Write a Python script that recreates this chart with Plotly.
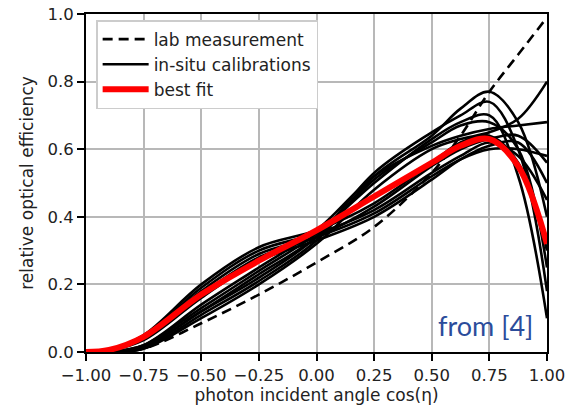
import plotly.graph_objects as go

x_grid = [-1.0, -0.9, -0.75, -0.5, -0.25, 0.0, 0.25, 0.5, 0.625, 0.75, 0.875, 1.0]

lab_measurement = [0.0, 0.0, 0.01, 0.085, 0.17, 0.265, 0.37, 0.53, 0.64, 0.77, 0.88, 0.99]

best_fit = [0.0, 0.006, 0.045, 0.17, 0.27, 0.36, 0.46, 0.56, 0.61, 0.63, 0.55, 0.32]

insitu_curves = [
    [0.0, 0.005, 0.04, 0.18, 0.29, 0.34, 0.41, 0.52, 0.57, 0.60, 0.60, 0.58],
    [0.0, 0.005, 0.045, 0.19, 0.30, 0.35, 0.42, 0.53, 0.58, 0.62, 0.58, 0.45],
    [0.0, 0.005, 0.04, 0.17, 0.28, 0.34, 0.43, 0.55, 0.60, 0.63, 0.64, 0.56],
    [0.0, 0.005, 0.05, 0.20, 0.31, 0.36, 0.44, 0.56, 0.62, 0.64, 0.56, 0.30],
    [0.0, 0.004, 0.035, 0.16, 0.27, 0.33, 0.40, 0.51, 0.57, 0.61, 0.62, 0.50],
    [0.0, 0.0, 0.01, 0.11, 0.21, 0.33, 0.52, 0.64, 0.72, 0.77, 0.68, 0.40],
    [0.0, 0.0, 0.015, 0.12, 0.22, 0.34, 0.53, 0.65, 0.70, 0.74, 0.60, 0.18],
    [0.0, 0.0, 0.02, 0.13, 0.24, 0.35, 0.50, 0.63, 0.68, 0.70, 0.52, 0.10],
    [0.0, 0.0, 0.01, 0.10, 0.20, 0.32, 0.48, 0.60, 0.63, 0.65, 0.69, 0.80],
    [0.0, 0.0, 0.02, 0.14, 0.25, 0.36, 0.52, 0.61, 0.64, 0.66, 0.67, 0.68],
    [0.0, 0.0, 0.015, 0.12, 0.23, 0.34, 0.51, 0.62, 0.67, 0.68, 0.60, 0.25],
]

x_ticks = [-1.0, -0.75, -0.5, -0.25, 0.0, 0.25, 0.5, 0.75, 1.0]
y_ticks = [0.0, 0.2, 0.4, 0.6, 0.8, 1.0]

font_family = "DejaVu Sans"

fig = go.Figure()

fig.add_trace(go.Scatter(
    x=x_grid, y=lab_measurement, mode="lines", name="lab measurement",
    line=dict(color="black", width=2.6, dash="10px,6px", shape="spline"),
))
for i, c in enumerate(insitu_curves):
    fig.add_trace(go.Scatter(
        x=x_grid, y=c, mode="lines", name="in-situ calibrations",
        showlegend=(i == 0), legendgroup="insitu",
        line=dict(color="black", width=2.6, shape="spline"),
    ))
fig.add_trace(go.Scatter(
    x=x_grid, y=best_fit, mode="lines", name="best fit",
    line=dict(color="red", width=6, shape="spline"),
))

axis_common = dict(
    showgrid=True, gridcolor="#b8b8b8", gridwidth=1.5,
    showline=True, linecolor="black", linewidth=1.8, mirror=True,
    ticks="outside", ticklen=7, tickwidth=1.5, tickcolor="black",
    tickfont=dict(family=font_family, size=16.5, color="#222"),
    zeroline=False, automargin=False,
)

fig.update_layout(
    width=569, height=410,
    margin=dict(l=86, r=22, t=14, b=58),
    paper_bgcolor="white", plot_bgcolor="white",
    font=dict(family=font_family, color="#222"),
    xaxis=dict(range=[-1, 1], tickvals=x_ticks, tickformat=".2f",
               title=dict(text="photon incident angle cos(η)", font=dict(size=17), standoff=4),
               **axis_common),
    yaxis=dict(range=[0, 1], tickvals=y_ticks, tickformat=".1f",
               title=dict(text="relative optical efficiency", font=dict(size=17), standoff=10),
               **axis_common),
    legend=dict(x=0.022, y=0.982, xanchor="left", yanchor="top",
                bgcolor="white", bordercolor="#cccccc", borderwidth=1.5,
                font=dict(family=font_family, size=17, color="#222"),
                tracegroupgap=0, itemwidth=46),
    showlegend=True,
    annotations=[dict(
        text="from [4]", x=0.975, y=0.077, xref="paper", yref="paper",
        xanchor="right", yanchor="middle", showarrow=False,
        font=dict(family="Lato", size=27, color="#2b4c9b"),
    )],
)

fig.write_html("out.html")
